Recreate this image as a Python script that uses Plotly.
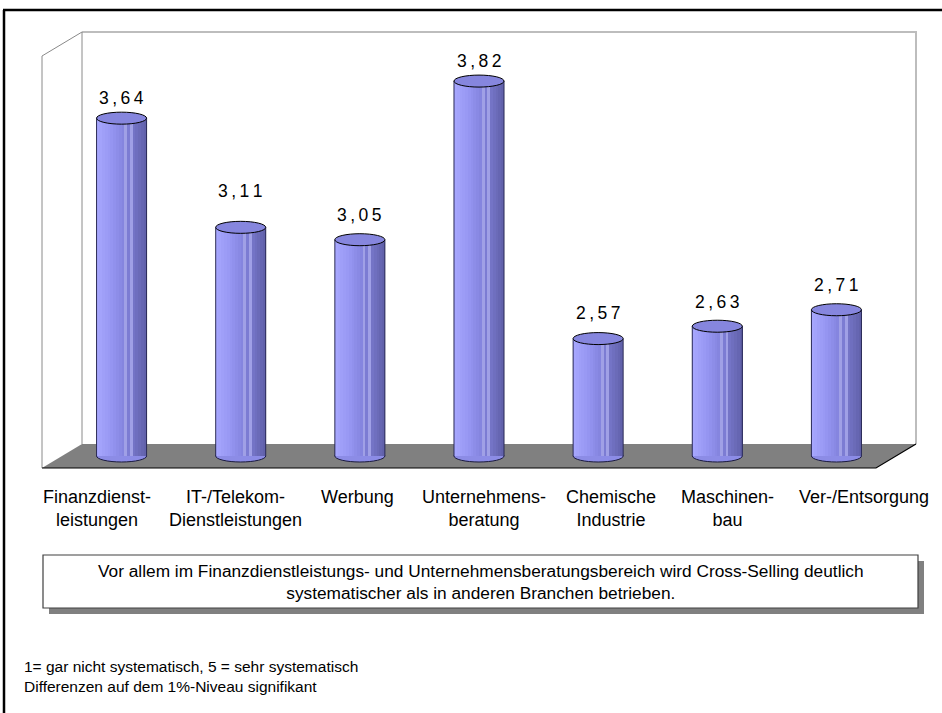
import plotly.graph_objects as go

# --- data -------------------------------------------------------------
categories = [
    "Finanzdienst-<br>leistungen",
    "IT-/Telekom-<br>Dienstleistungen",
    "Werbung",
    "Unternehmens-<br>beratung",
    "Chemische<br>Industrie",
    "Maschinen-<br>bau",
    "Ver-/Entsorgung",
]
values = [3.64, 3.11, 3.05, 3.82, 2.57, 2.63, 2.71]
axis_min, axis_max = 2.0, 4.0

note_text = ("Vor allem im Finanzdienstleistungs- und Unternehmensberatungsbereich wird Cross-Selling deutlich"
             "<br>systematischer als in anderen Branchen betrieben.")
footnote_text = "1= gar nicht systematisch, 5 = sehr systematisch<br>Differenzen auf dem 1%-Niveau signifikant"

# --- page geometry (pixels) ------------------------------------------
W, H = 942, 713
FONT = "Arial, Liberation Sans, Helvetica, sans-serif"
mid_left, mid_right = 62, 896          # mid-depth plane of the 3D box
floor_mid_y, top_mid_y = 456, 44       # y of axis_min / axis_max in that plane
step = (mid_right - mid_left) / len(values)
ppu = (floor_mid_y - top_mid_y) / (axis_max - axis_min)

x_range = [(0 - mid_left) / step - 0.5, (W - mid_left) / step - 0.5]
y_range = [axis_min - (H - floor_mid_y) / ppu, axis_min + floor_mid_y / ppu]

# per-label horizontal nudges and value-label lift (px)
label_dx = [-25, -5, -2, 5, 13, 10, 28]
value_lift = [20, 36, 25, 20, 26, 24, 25]


def px(x):
    return x / W


def py(y):
    return 1 - y / H


def lerp(a, b, t):
    return tuple(a[i] + (b[i] - a[i]) * t for i in range(3))


def shade(t):
    stops = [(0.0, (168, 168, 255)), (0.3, (150, 150, 242)), (0.55, (132, 132, 222)),
             (0.8, (112, 112, 192)), (1.0, (96, 96, 168))]
    for (t0, c0), (t1, c1) in zip(stops, stops[1:]):
        if t <= t1:
            c = lerp(c0, c1, (t - t0) / (t1 - t0))
            return "rgb(%d,%d,%d)" % c
    return "rgb(%d,%d,%d)" % stops[-1][1]


xs = list(range(len(values)))
bar_w = 0.42
ell_h = 6.0 / ppu
n_strips = 18

fig = go.Figure()

# cylinder bodies as vertical colour strips
for k in range(n_strips):
    t = (k + 0.5) / n_strips
    color = shade(t)
    if k in (10, 12):
        color = "rgb(160,160,230)"
    fig.add_trace(go.Bar(
        x=xs, y=[v - axis_min for v in values], base=axis_min,
        width=bar_w / n_strips * 1.08, offset=-bar_w / 2 + k * bar_w / n_strips,
        marker=dict(color=color, line=dict(width=0)),
        hoverinfo="skip", showlegend=False,
    ))

shapes = []
# outer frame (left and top edges only)
shapes.append(dict(type="line", xref="paper", yref="paper", x0=px(4), x1=px(4), y0=0, y1=py(10),
                   line=dict(color="black", width=2.5), layer="below"))
shapes.append(dict(type="line", xref="paper", yref="paper", x0=px(3), x1=1, y0=py(10), y1=py(10),
                   line=dict(color="black", width=2.5), layer="below"))
# back wall
shapes.append(dict(type="path", xref="paper", yref="paper",
                   path="M %f,%f L %f,%f L %f,%f" % (px(82), py(32), px(916), py(32), px(916), py(444)),
                   line=dict(color="#bdbdbd", width=2), layer="below"))
# side wall
shapes.append(dict(type="path", xref="paper", yref="paper",
                   path="M %f,%f L %f,%f L %f,%f L %f,%f" % (px(42), py(468), px(42), py(56),
                                                          px(82), py(32), px(82), py(444)),
                   line=dict(color="#8a8a8a", width=1), layer="below"))
# floor
shapes.append(dict(type="path", xref="paper", yref="paper",
                   path="M %f,%f L %f,%f L %f,%f L %f,%f Z" % (px(42), py(468), px(82), py(444),
                                                            px(916), py(444), px(876), py(468)),
                   fillcolor="#808080", line=dict(color="#808080", width=0), layer="below"))
shapes.append(dict(type="path", xref="paper", yref="paper",
                   path="M %f,%f L %f,%f L %f,%f" % (px(42), py(468), px(876), py(468), px(916), py(444)),
                   line=dict(color="black", width=1.2), layer="below"))

for x, v in zip(xs, values):
    # bottom cap
    shapes.append(dict(type="circle", xref="x", yref="y", x0=x - bar_w / 2, x1=x + bar_w / 2,
                       y0=axis_min - ell_h, y1=axis_min + ell_h,
                       fillcolor="rgb(140,140,230)", line=dict(color="#1a1a40", width=1), layer="below"))
    # side outlines
    for sx in (x - bar_w / 2, x + bar_w / 2):
        shapes.append(dict(type="line", xref="x", yref="y", x0=sx, x1=sx, y0=axis_min, y1=v,
                           line=dict(color="#2a2a55", width=1), layer="above"))
    # top cap
    shapes.append(dict(type="circle", xref="x", yref="y", x0=x - bar_w / 2, x1=x + bar_w / 2,
                       y0=v - ell_h, y1=v + ell_h,
                       fillcolor="rgb(134,134,222)", line=dict(color="black", width=1), layer="above"))

# note box with drop shadow
shapes.append(dict(type="rect", xref="paper", yref="paper", x0=px(49), x1=px(924), y0=py(614), y1=py(561),
                   fillcolor="#808080", line=dict(width=0), layer="below"))
shapes.append(dict(type="rect", xref="paper", yref="paper", x0=px(43), x1=px(918), y0=py(608), y1=py(555),
                   fillcolor="white", line=dict(color="#404040", width=1.2), layer="below"))

annotations = []
thin = "\u2009"
for x, v, lift in zip(xs, values, value_lift):
    label = thin.join(("%.2f" % v).replace(".", ","))
    annotations.append(dict(x=x, y=v, xref="x", yref="y", text=label, showarrow=False,
                            yshift=lift, yanchor="middle", font=dict(family=FONT, size=17.5, color="black")))

for x, name, dx in zip(xs, categories, label_dx):
    annotations.append(dict(x=x, y=py(485), xref="x", yref="paper", text=name,
                            showarrow=False, xshift=dx, yanchor="top", align="center",
                            font=dict(family=FONT, size=18, color="black")))

annotations.append(dict(x=px(481), y=py(581.5), xref="paper", yref="paper", text=note_text,
                        showarrow=False, align="center", yanchor="middle",
                        font=dict(family=FONT, size=17.3, color="black")))
annotations.append(dict(x=px(22), y=py(676), xref="paper", yref="paper", text=footnote_text,
                        showarrow=False, align="left", xanchor="left", yanchor="middle",
                        font=dict(family=FONT, size=15.5, color="black")))

fig.update_layout(
    width=W, height=H,
    margin=dict(l=0, r=0, t=0, b=0),
    paper_bgcolor="white", plot_bgcolor="rgba(0,0,0,0)",
    barmode="overlay", bargap=0,
    xaxis=dict(range=x_range, visible=False, fixedrange=True),
    yaxis=dict(range=y_range, visible=False, fixedrange=True),
    shapes=shapes, annotations=annotations,
    showlegend=False,
)

fig.write_html("out.html")
